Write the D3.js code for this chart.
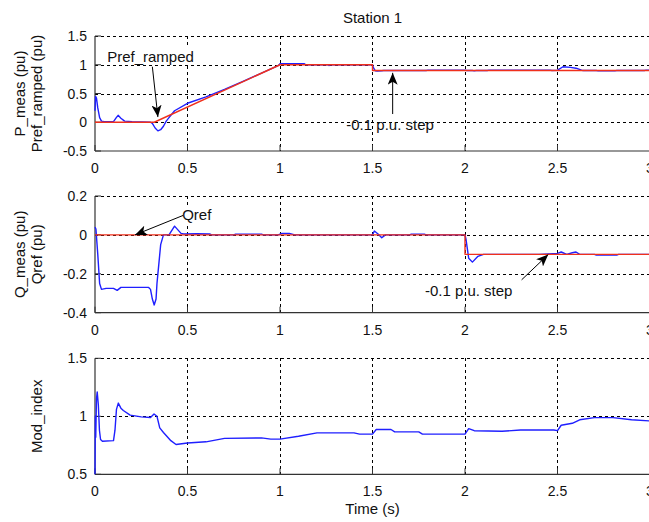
<!DOCTYPE html>
<html><head><meta charset="utf-8">
<script src="https://cdn.jsdelivr.net/npm/d3@7"></script>
<style>
html,body{margin:0;padding:0;background:#fff;overflow:hidden}
svg{display:block}
text{font-family:"Liberation Sans",Arial,Helvetica,sans-serif;fill:#111}
</style></head><body>
<script>
// ---------- data ----------
const title = "Station 1";
const xLabel = "Time (s)";
const xTicks = [0, 0.5, 1, 1.5, 2, 2.5, 3];

// Panel 1: active power
const p1Labels = ["P_meas (pu)", "Pref_ramped (pu)"];
const p1Ticks = [-0.5, 0, 0.5, 1, 1.5];
const pMeasT = [0,0.003,0.008,0.015,0.025,0.035,0.05,0.1,0.115,0.125,0.14,0.16,0.2,0.3,0.31,0.325,0.34,0.355,0.37,0.385,0.4,0.43,0.5,0.6,0.7,0.8,0.9,0.99,1.0,1.13,1.14,1.26,1.265,1.27,1.5,1.505,1.515,1.525,1.55,1.56,1.79,1.8,2.0,2.01,2.04,2.05,2.06,2.12,2.13,2.46,2.47,2.5,2.53,2.57,2.6,2.63,2.64,2.71,2.72,2.81,2.82,2.97,2.98,3.0];
const pMeas  = [0.2,0.45,0.42,0.25,0.08,0.02,0.01,0.01,0.08,0.12,0.07,0.02,0.01,0.0,-0.02,-0.1,-0.15,-0.13,-0.07,0.02,0.08,0.2,0.33,0.44,0.57,0.71,0.855,0.985,1.02,1.02,1.0,1.0,0.985,1.0,1.0,0.95,0.895,0.89,0.895,0.9,0.9,0.906,0.906,0.9,0.9,0.894,0.9,0.9,0.906,0.906,0.9,0.905,0.965,0.955,0.94,0.905,0.9,0.9,0.894,0.894,0.9,0.9,0.906,0.906];
const prefT = [0, 0.32, 1.0, 1.5, 1.5, 3.0];
const pref  = [0, 0, 1, 1, 0.9, 0.9];

// Panel 2: reactive power
const p2Labels = ["Q_meas (pu)", "Qref (pu)"];
const p2Ticks = [-0.4, -0.2, 0, 0.2];
const qMeasT = [0,0.005,0.015,0.025,0.035,0.06,0.1,0.12,0.14,0.2,0.29,0.3,0.31,0.32,0.33,0.335,0.345,0.355,0.37,0.4,0.43,0.465,0.48,0.55,0.62,0.63,0.75,0.76,0.9,0.91,0.99,1.01,1.05,1.08,1.1,1.4,1.5,1.51,1.53,1.55,1.57,1.7,1.71,1.78,1.79,1.9,2.0,2.005,2.02,2.04,2.07,2.1,2.2,2.4,2.5,2.52,2.55,2.58,2.6,2.62,2.7,2.71,2.82,2.83,3.0];
const qMeas  = [0.04,0.03,-0.1,-0.25,-0.28,-0.275,-0.275,-0.285,-0.27,-0.27,-0.27,-0.28,-0.33,-0.36,-0.33,-0.25,-0.15,-0.05,0.0,0.0,0.045,0.008,0.005,0.006,0.005,0.0,0.0,0.004,0.004,0.0,0.0,0.008,0.008,0.0,0.0,0.0,0.0,0.02,0.005,-0.015,0.0,0.0,0.004,0.004,0.0,0.0,0.0,-0.02,-0.12,-0.14,-0.11,-0.1,-0.1,-0.1,-0.095,-0.088,-0.1,-0.092,-0.088,-0.1,-0.1,-0.104,-0.104,-0.1,-0.1];
const qrefT = [0, 2, 2, 3];
const qref  = [0, 0, -0.1, -0.1];

// Panel 3: modulation index
const p3Labels = ["Mod_index"];
const p3Ticks = [0.5, 1, 1.5];
const modT = [0,0.002,0.004,0.008,0.012,0.018,0.024,0.03,0.04,0.1,0.108,0.116,0.126,0.14,0.153,0.19,0.25,0.3,0.319,0.335,0.35,0.37,0.387,0.41,0.438,0.5,0.6,0.7,0.9,0.95,1.0,1.1,1.2,1.4,1.43,1.5,1.52,1.6,1.62,1.75,1.77,2.0,2.02,2.05,2.2,2.3,2.48,2.5,2.52,2.58,2.62,2.7,2.8,2.9,3.0];
const mod  = [0.5,1.0,0.82,1.15,1.21,1.1,0.88,0.8,0.785,0.79,0.88,1.06,1.114,1.07,1.05,1.01,0.995,0.99,1.02,1.0,0.9,0.86,0.83,0.79,0.757,0.77,0.78,0.81,0.814,0.803,0.803,0.828,0.857,0.857,0.846,0.846,0.886,0.886,0.866,0.866,0.846,0.846,0.894,0.876,0.871,0.882,0.882,0.876,0.923,0.94,0.97,0.989,0.989,0.97,0.96];

// ---------- drawing ----------
const W = 649, H = 522;
const svg = d3.select("body").append("svg").attr("width", W).attr("height", H);
const x = d3.scaleLinear().domain([0, 3]).range([95, 650]);

const BLUE = "#1f1fff", RED = "#f0301c";

svg.append("defs").append("marker")
  .attr("id", "ah").attr("viewBox", "0 0 12 10").attr("refX", 12).attr("refY", 5)
  .attr("markerWidth", 12).attr("markerHeight", 10).attr("markerUnits", "userSpaceOnUse")
  .attr("orient", "auto")
  .append("path").attr("d", "M0,0 L12,5 L0,10 L3,5 Z").attr("fill", "#000");

function panel(top, bottom, domain, ticks, labels, series, annotations) {
  const y = d3.scaleLinear().domain(domain).range([bottom, top]);
  const g = svg.append("g");
  // grid
  g.selectAll(".gx").data(xTicks.filter(d => d > 0)).enter().append("line")
    .attr("x1", d => x(d)).attr("x2", d => x(d)).attr("y1", top).attr("y2", bottom)
    .attr("stroke", "#000").attr("stroke-width", 1).attr("stroke-dasharray", "3,3")
    .attr("shape-rendering", "crispEdges");
  g.selectAll(".gy").data(ticks.filter(d => d > domain[0])).enter().append("line")
    .attr("x1", x(0)).attr("x2", x(3)).attr("y1", d => Math.round(y(d)) + 0.5).attr("y2", d => Math.round(y(d)) + 0.5)
    .attr("stroke", "#000").attr("stroke-width", 1).attr("stroke-dasharray", "3,3");
  // axes lines
  g.append("line").attr("x1", x(0)).attr("x2", x(0)).attr("y1", top).attr("y2", bottom)
    .attr("stroke", "#333").attr("stroke-width", 1.2);
  g.append("line").attr("x1", x(0)).attr("x2", x(3)).attr("y1", bottom).attr("y2", bottom)
    .attr("stroke", "#333").attr("stroke-width", 1.2);
  // ticks (inside)
  g.selectAll(".tx").data(xTicks).enter().append("line")
    .attr("x1", d => x(d)).attr("x2", d => x(d)).attr("y1", bottom).attr("y2", bottom - 6)
    .attr("stroke", "#333");
  g.selectAll(".ty").data(ticks).enter().append("line")
    .attr("x1", x(0)).attr("x2", x(0) + 6).attr("y1", d => y(d)).attr("y2", d => y(d))
    .attr("stroke", "#333");
  // tick labels
  g.selectAll(".lx").data(xTicks).enter().append("text")
    .attr("x", d => x(d)).attr("y", bottom + 22).attr("text-anchor", "middle")
    .style("font-size", "14px").text(d => d);
  g.selectAll(".ly").data(ticks).enter().append("text")
    .attr("x", x(0) - 8).attr("y", d => y(d) + 5).attr("text-anchor", "end")
    .style("font-size", "14px").text(d => d);
  // y labels
  const cy = (top + bottom) / 2;
  labels.forEach((lab, i) => {
    const lx = labels.length === 2 ? (i === 0 ? 25 : 42) : 42;
    g.append("text").attr("transform", `translate(${lx},${cy}) rotate(-90)`)
      .attr("text-anchor", "middle").style("font-size", "15px").text(lab);
  });
  // series
  series.forEach(s => {
    const pts = s.t.map((t, i) => [t, s.v[i]]);
    g.append("path").datum(pts)
      .attr("d", d3.line().x(d => x(d[0])).y(d => y(d[1])))
      .attr("fill", "none").attr("stroke", s.color).attr("stroke-width", 1.4)
      .attr("stroke-linejoin", "round");
  });
  // annotations
  (annotations || []).forEach(a => {
    const t = g.append("text").attr("x", x(a.tx)).attr("y", y(a.ty) + 5)
      .attr("text-anchor", "middle").style("font-size", "15px").text(a.text);
    if (a.bg) {
      const bb = t.node().getBBox();
      g.insert("rect", () => t.node()).attr("x", bb.x - 1).attr("y", bb.y).attr("width", bb.width + 2)
        .attr("height", bb.height).attr("fill", "#fff");
    }
    g.append("line").attr("x1", x(a.ax)).attr("y1", y(a.ay)).attr("x2", x(a.bx)).attr("y2", y(a.by))
      .attr("stroke", "#000").attr("stroke-width", 1).attr("marker-end", "url(#ah)");
  });
  return y;
}

panel(36, 151, [-0.5, 1.5], p1Ticks, p1Labels,
  [{t: pMeasT, v: pMeas, color: BLUE}, {t: prefT, v: pref, color: RED}],
  [{text: "Pref_ramped", tx: 0.3, ty: 1.14, ax: 0.31, ay: 0.966, bx: 0.34, by: 0.09, bg: true},
   {text: "-0.1 p.u. step", tx: 1.595, ty: -0.05, ax: 1.609, ay: 0.143, bx: 1.609, by: 0.86}]);

panel(196, 312.7, [-0.4, 0.2], p2Ticks, p2Labels,
  [{t: qMeasT, v: qMeas, color: BLUE}, {t: qrefT, v: qref, color: RED}],
  [{text: "Qref", tx: 0.55, ty: 0.1, ax: 0.476, ay: 0.1, bx: 0.216, by: 0.0, bg: true},
   {text: "-0.1 p.u. step", tx: 2.02, ty: -0.287, ax: 2.306, ay: -0.231, bx: 2.45, by: -0.101}]);

panel(358.3, 474.3, [0.5, 1.5], p3Ticks, p3Labels,
  [{t: modT, v: mod, color: BLUE}], []);

svg.append("text").attr("x", (x(0) + x(3)) / 2).attr("y", 23).attr("text-anchor", "middle")
  .style("font-size", "15px").text(title);
svg.append("text").attr("x", (x(0) + x(3)) / 2).attr("y", 514).attr("text-anchor", "middle")
  .style("font-size", "15px").text(xLabel);
</script>
</body></html>
